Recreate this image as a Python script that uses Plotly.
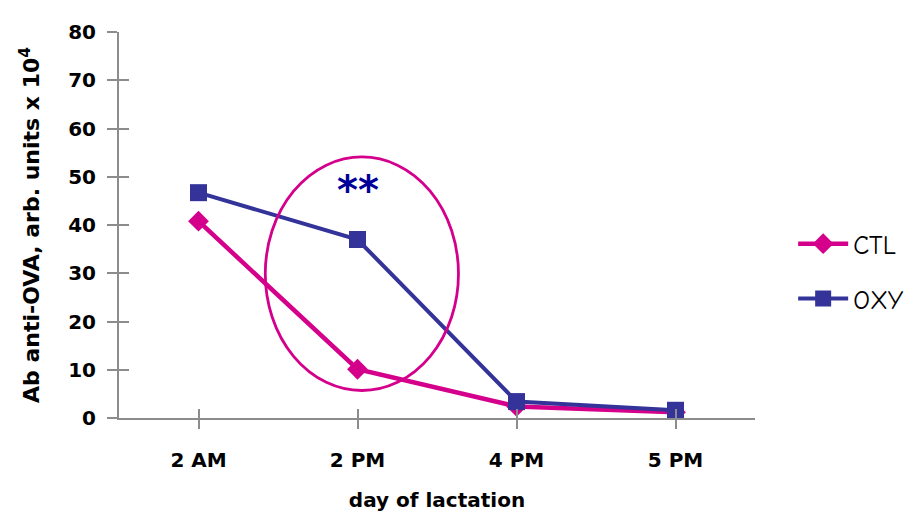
import plotly.graph_objects as go

categories = ["2 AM", "2 PM", "4 PM", "5 PM"]
ctl_values = [40.8, 10.1, 2.4, 1.2]
oxy_values = [46.7, 37.0, 3.4, 1.6]
y_ticks = [0, 10, 20, 30, 40, 50, 60, 70, 80]

COMIC = "Comic Sans MS, Comic Neue, Noto Sans, sans-serif"
BOLDFONT = "DejaVu Sans, sans-serif"
CTL_COLOR = "#d4008c"
OXY_COLOR = "#333399"
AXIS_COLOR = "#8c8c8c"

xpos = list(range(len(categories)))

fig = go.Figure()
fig.add_trace(go.Scatter(
    x=xpos, y=ctl_values, name="CTL", mode="lines+markers",
    line=dict(color=CTL_COLOR, width=4.5),
    marker=dict(symbol="diamond", size=16, color=CTL_COLOR),
    legendgroup="a",
))
fig.add_trace(go.Scatter(
    x=xpos, y=oxy_values, name="OXY", mode="lines+markers",
    line=dict(color=OXY_COLOR, width=4),
    marker=dict(symbol="square", size=17, color=OXY_COLOR),
    legendgroup="b",
))

# ellipse highlighting 2 PM
fig.add_shape(type="circle", xref="x", yref="y",
              x0=0.42, x1=1.635, y0=5.7, y1=54.1,
              line=dict(color=CTL_COLOR, width=2.8), layer="above")
fig.add_annotation(x=1.0, y=47.3, xref="x", yref="y", text="<b>**</b>",
                   showarrow=False,
                   font=dict(family="DejaVu Sans, sans-serif", size=40, color="#000099"))

TICKFONT = dict(family=BOLDFONT, size=20, color="black", weight="bold")

fig.update_layout(
    width=914, height=518,
    margin=dict(l=111, r=167, t=14, b=108),
    paper_bgcolor="white", plot_bgcolor="white",
    font=dict(family=BOLDFONT, size=20, color="black"),
    showlegend=True,
    legend=dict(x=1.06, y=0.38, xanchor="left", yanchor="middle",
                font=dict(family=COMIC, size=26, color="black"),
                traceorder="grouped", tracegroupgap=18, itemwidth=50,
                bgcolor="rgba(0,0,0,0)"),
    xaxis=dict(
        range=[-0.5, 3.5], tickmode="array", tickvals=xpos, ticktext=categories,
        showgrid=False, zeroline=False, showline=True, linecolor=AXIS_COLOR, linewidth=2,
        ticks="outside", ticklen=9, tickwidth=1.5, tickcolor=AXIS_COLOR,
        tickfont=TICKFONT, ticklabelstandoff=14,
        title=dict(text="<b>day of lactation</b>", standoff=22,
                   font=dict(family=BOLDFONT, size=20, color="black", weight="bold")),
    ),
    yaxis=dict(
        range=[0, 80], tickmode="array", tickvals=y_ticks,
        showgrid=False, zeroline=False, showline=True, linecolor=AXIS_COLOR, linewidth=2,
        ticks="outside", ticklen=10, tickwidth=1.5, tickcolor=AXIS_COLOR,
        tickfont=TICKFONT, ticklabelstandoff=7,
        title=dict(text="<b>Ab anti-OVA, arb. units x 10<sup>4</sup></b>", standoff=22,
                   font=dict(family=BOLDFONT, size=22, color="black", weight="bold")),
    ),
    xaxis2=dict(range=[-0.5, 3.5], overlaying="x", tickmode="array", tickvals=xpos,
                showticklabels=False, ticks="inside", ticklen=9, tickwidth=1.5,
                tickcolor=AXIS_COLOR, showgrid=False, zeroline=False, showline=False),
    yaxis2=dict(range=[0, 80], overlaying="y", tickmode="array", tickvals=y_ticks,
                showticklabels=False, ticks="inside", ticklen=10, tickwidth=1.5,
                tickcolor=AXIS_COLOR, showgrid=False, zeroline=False, showline=False),
)
# invisible trace to activate overlay axes
fig.add_trace(go.Scatter(x=[None], y=[None], xaxis="x2", yaxis="y2",
                         showlegend=False, hoverinfo="skip"))

fig.write_html("out.html")
